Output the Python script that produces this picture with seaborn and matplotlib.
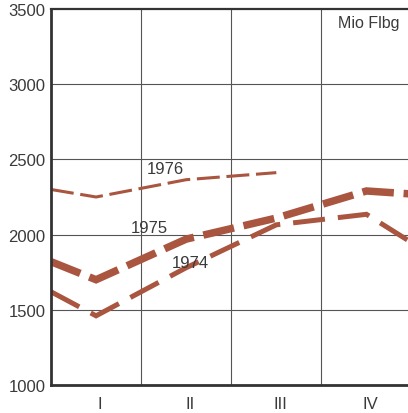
import matplotlib
matplotlib.use("Agg")
import matplotlib.pyplot as plt
import matplotlib.transforms as mtransforms
import seaborn as sns
import pandas as pd

# ---- data ----
quarters = ["I", "II", "III", "IV"]
quarter_pos = [1, 2, 3, 4]
y_ticks = [1000, 1500, 2000, 2500, 3000, 3500]

x_1974 = [0.5, 1, 2, 3, 4, 5]
v_1974 = [1620, 1460, 1780, 2065, 2135, 1760]

x_1975 = [0.5, 1, 2, 3, 4, 5]
v_1975 = [1820, 1700, 1970, 2110, 2290, 2250]

x_1976 = [0.5, 1, 2, 3]
v_1976 = [2300, 2250, 2365, 2412]

unit_label = "Mio Flbg"

# ---- style ----
sns.set_theme(style="white")
plt.rcParams["font.family"] = ["Liberation Sans", "DejaVu Sans"]

line_color = "#a9553f"
text_color = "#3a3a3a"
grid_color = "#555555"

W, H = 408, 414
fig = plt.figure(figsize=(W / 100, H / 100), dpi=100)
left_px, right_px, top_px, bottom_px = 51, 411.5, 10, 386
ax = fig.add_axes([left_px / W, 1 - bottom_px / H,
                   (right_px - left_px) / W, (bottom_px - top_px) / H])
ax.set_facecolor("white")

series = [
    ("1974", x_1974, v_1974, 3.6, (6.4, 2.6)),
    ("1975", x_1975, v_1975, 5.4, (4.2, 1.3)),
    ("1976", x_1976, v_1976, 2.2, (7.5, 2.2)),
]
for name, xs, vs, lw, dash in series:
    df = pd.DataFrame({"q": xs, "v": vs})
    sns.lineplot(data=df, x="q", y="v", ax=ax, color=line_color,
                 linewidth=lw, sort=False, estimator=None)
    ln = ax.lines[-1]
    ln.set_dashes(dash)
    ln.set_solid_capstyle("butt")
    ln.set_dash_capstyle("butt")
    ln.set_dash_joinstyle("miter")

ax.set_xlim(0.5, 4.5)
ax.set_ylim(1000, 3500)
ax.set_yticks(y_ticks)
ax.set_yticklabels([str(t) for t in y_ticks])
ax.set_xticks(quarter_pos)
ax.set_xticklabels(quarters)
ax.set_xlabel("")
ax.set_ylabel("")

# grid: horizontal at y ticks, vertical at quarter boundaries
for yv in y_ticks[1:-1]:
    ax.axhline(yv, color=grid_color, linewidth=0.8, zorder=0.5)
for xb in [1.5, 2.5, 3.5]:
    ax.axvline(xb, color=grid_color, linewidth=0.8, zorder=0.5)

for side in ["left", "bottom", "top"]:
    ax.spines[side].set_visible(True)
    ax.spines[side].set_color("#333333")
ax.spines["left"].set_linewidth(2.0)
ax.spines["bottom"].set_linewidth(2.0)
ax.spines["top"].set_linewidth(1.6)
ax.spines["right"].set_visible(False)

ax.tick_params(axis="both", length=0, colors=text_color, labelsize=12)
ax.tick_params(axis="y", pad=4)
ax.tick_params(axis="x", pad=8)
offset = mtransforms.ScaledTranslation(4 / 100, 0, fig.dpi_scale_trans)
for lab in ax.get_xticklabels():
    lab.set_transform(lab.get_transform() + offset)

ax.text(1.772, 2440, "1976", ha="center", va="center", fontsize=12, color=text_color)
ax.text(1.595, 2047, "1975", ha="center", va="center", fontsize=12, color=text_color)
ax.text(2.05, 1813, "1974", ha="center", va="center", fontsize=12, color=text_color)
ax.text(4.03, 3407, unit_label, ha="center", va="center", fontsize=11.5, color=text_color)

fig.savefig("out.png", dpi=100, facecolor="white")
